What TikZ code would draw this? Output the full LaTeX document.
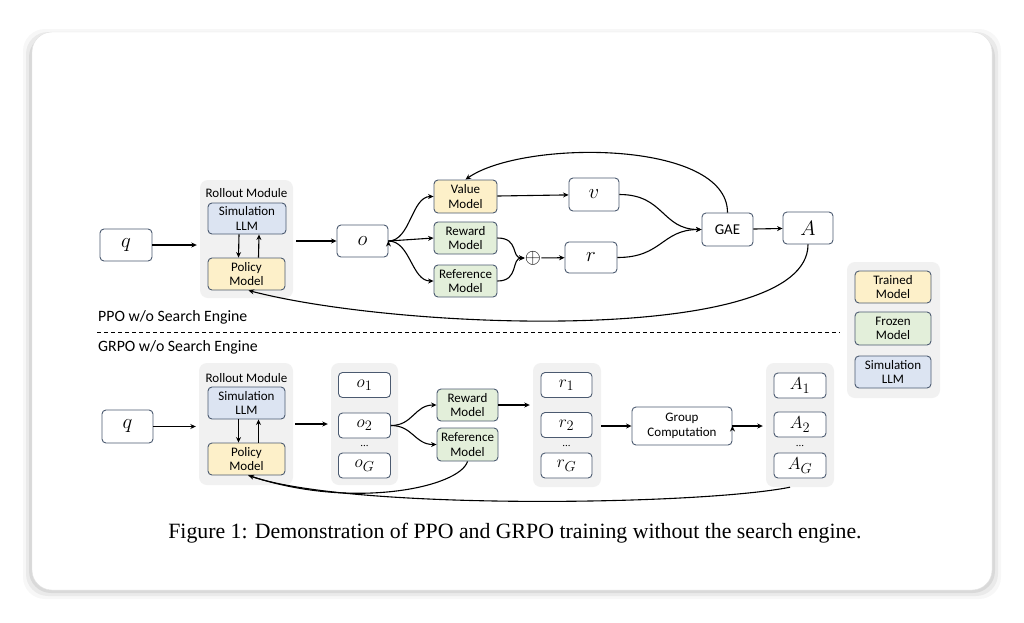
\documentclass[tikz,border=0pt]{standalone}
\usepackage{amsmath}
\usepackage{fontspec}
\setmainfont{Liberation Serif}
\newfontfamily\diagfont{Carlito}
\usetikzlibrary{arrows.meta,positioning}
\definecolor{boxline}{HTML}{4B5A70}
\definecolor{trainedfill}{HTML}{FDF0C9}
\definecolor{frozenfill}{HTML}{E3EFDA}
\definecolor{simfill}{HTML}{DCE4F2}
\definecolor{groupfill}{HTML}{F1F1F1}
\definecolor{cardline}{HTML}{E2E2E2}
\tikzset{
    component/.style={
    rectangle,rounded corners=4pt,draw=boxline,line width=0.9pt,fill=white,
    inner sep=0pt,align=center,font=\diagfont\fontsize{13}{14.5}\selectfont
    },
    trained/.style={
    component,fill=trainedfill
    },
    frozen/.style={
    component,fill=frozenfill
    },
    simllm/.style={
    component,fill=simfill
    },
    varbox/.style={
    component,font=\fontsize{20.74}{21}\selectfont
    },
    itembox/.style={
    component,minimum width=52pt,minimum height=25pt,font=\fontsize{19}{19}\selectfont
    },
    groupbg/.style={
    rectangle,rounded corners=8pt,fill=groupfill,draw=none,inner sep=0pt
    },
    modlabel/.style={
    font=\diagfont\fontsize{13}{13}\selectfont,inner sep=0pt
    },
    rowlabel/.style={
    font=\diagfont\fontsize{15.8}{16}\selectfont,inner sep=0pt,anchor=west
    },
    dots/.style={
    font=\fontsize{11}{11}\selectfont,inner sep=0pt
    },
    flow/.style={
    ->,line width=1.1pt,draw=black
    },
}

\begin{document}
\begin{tikzpicture}[x=1pt, y=-1pt, >={Stealth[length=5.5pt,width=5pt]}]
  \useasboundingbox (0,0) rectangle (1024,622);
  % card with soft shadow
  \foreach \s/\o in {9/0.03,6/0.05,3/0.07}
    \fill[black,opacity=\o,rounded corners=22pt] (32-\s,34-\s+4) rectangle (992+\s,590+\s);
  \draw[cardline,fill=white,rounded corners=20pt] (32,32) rectangle (992,590);

  % ---- PPO row
  \node[groupbg,minimum width=93pt,minimum height=118pt] (ROLL1) at (246.5,239) {};
  \node[modlabel] at (246.5,193) {Rollout Module};
  \node[varbox,minimum width=52pt,minimum height=32pt] (Q1) at (126,245) {$q$};
  \node[simllm,minimum width=78pt,minimum height=31pt] (SIM1) at (247,218.5) {Simulation\\LLM};
  \node[trained,minimum width=77pt,minimum height=32pt] (POL1) at (246.5,274) {Policy\\Model};
  \node[varbox,minimum width=51pt,minimum height=32pt] (O1) at (362.5,241) {$o$};
  \node[trained,minimum width=63pt,minimum height=33pt] (VAL1) at (465.5,196.5) {Value\\Model};
  \node[frozen,minimum width=63pt,minimum height=32pt] (REW1) at (465.5,238) {Reward\\Model};
  \node[frozen,minimum width=63pt,minimum height=32pt] (REF1) at (465.5,281) {Reference\\Model};
  \node[inner sep=0pt,font=\fontsize{20.74}{21}\selectfont] (PLUS) at (533,258) {$\oplus$};
  \node[varbox,minimum width=50pt,minimum height=33pt] (V1) at (594,194.5) {$v$};
  \node[varbox,minimum width=52pt,minimum height=31pt] (R1) at (591,257.5) {$r$};
  \node[component,minimum width=51pt,minimum height=33pt,font=\diagfont\fontsize{15}{15}\selectfont] (GAE) at (727.5,229.5) {GAE};
  \node[varbox,minimum width=50pt,minimum height=32pt] (A1) at (808,228) {$A$};

  \path[flow]
    (Q1) edge[shorten >=3pt] (ROLL1.west |- Q1)
    ([xshift=-8pt]SIM1.south) edge ([xshift=-8pt]POL1.north)
    ([xshift=12pt]POL1.north) edge ([xshift=12pt]SIM1.south)
    (ROLL1.east |- O1) edge[shorten <=3pt] (O1)
    (O1.east) edge (REW1.west)
    (VAL1) edge (V1)
    (PLUS) edge (R1)
    (GAE) edge (A1);
  \draw[flow] (O1.east) .. controls +(22,0) and +(-22,0) .. (VAL1.west);
  \draw[flow] (O1.east) .. controls +(22,0) and +(-22,0) .. (REF1.west);
  \draw[flow] (REW1.east) .. controls +(22,0) and +(-14,0) .. (PLUS.west);
  \draw[flow] (REF1.east) .. controls +(22,0) and +(-14,0) .. (PLUS.west);
  \draw[flow] (V1.east) .. controls +(45,0) and +(-40,0) .. (GAE.west);
  \draw[flow] (R1.east) .. controls +(45,0) and +(-40,0) .. (GAE.west);
  \draw[flow] (GAE.north) .. controls +(0,-73) and +(57,-40) .. (VAL1.north);
  \draw[flow] (A1.south) .. controls +(0,101) and +(153,40) .. ([xshift=2pt]POL1.south);

  % ---- separator
  \node[rowlabel] (PPOLBL) at (98,317) {PPO w/o Search Engine};
  \coordinate (SEPL) at (97,332);
  \coordinate (SEPR) at (840,332);
  \draw[line width=0.8pt,dash pattern=on 4pt off 3pt] (SEPL) -- (SEPR);
  \node[rowlabel] (GRPOLBL) at (98,347) {GRPO w/o Search Engine};

  % ---- GRPO row
  \node[groupbg,minimum width=94pt,minimum height=122pt] (ROLL2) at (246,424) {};
  \node[modlabel] at (246.5,378) {Rollout Module};
  \node[varbox,minimum width=51pt,minimum height=33pt] (Q2) at (127.5,426.5) {$q$};
  \node[simllm,minimum width=77pt,minimum height=32pt] (SIM2) at (246.5,403) {Simulation\\LLM};
  \node[trained,minimum width=77pt,minimum height=32pt] (POL2) at (246.5,459) {Policy\\Model};

  \node[groupbg,minimum width=67pt,minimum height=122pt] (OG) at (364.5,424) {};
  \node[itembox] (OI1) at (364.5,385) {$o_1$};
  \node[itembox] (OI2) at (364.5,425.5) {$o_2$};
  \node[dots] at (364.5,446) {...};
  \node[itembox] (OIG) at (364.5,465.5) {$o_G$};

  \node[frozen,minimum width=61pt,minimum height=32pt] (REW2) at (467.5,405) {Reward\\Model};
  \node[frozen,minimum width=61pt,minimum height=33pt] (REF2) at (467.5,444.5) {Reference\\Model};

  \node[groupbg,minimum width=68pt,minimum height=124pt] (RG) at (567,425) {};
  \node[itembox,minimum width=51pt] (RI1) at (566.5,385) {$r_1$};
  \node[itembox,minimum width=51pt] (RI2) at (566.5,425) {$r_2$};
  \node[dots] at (566.5,446) {...};
  \node[itembox,minimum width=51pt] (RIG) at (566.5,465.5) {$r_G$};

  \node[component,minimum width=100pt,minimum height=38pt] (GC) at (682,426) {Group\\Computation};

  \node[groupbg,minimum width=68pt,minimum height=124pt] (AG) at (800,425) {};
  \node[itembox] (AI1) at (800,385.5) {$A_1$};
  \node[itembox] (AI2) at (800,424.5) {$A_2$};
  \node[dots] at (800,446) {...};
  \node[itembox] (AIG) at (800,465.5) {$A_G$};

  \path[flow]
    (Q2) edge[shorten >=3pt] (ROLL2.west |- Q2)
    ([xshift=-8pt]SIM2.south) edge ([xshift=-8pt]POL2.north)
    ([xshift=12pt]POL2.north) edge ([xshift=12pt]SIM2.south)
    ([xshift=2pt]ROLL2.east) edge[shorten >=3pt] (OG.west)
    (REW2.east) edge[shorten >=3pt] (REW2.east -| RG.west)
    (RG.east |- GC.west) edge (GC.west)
    (GC.east) edge[shorten >=3pt] (AG.west |- GC.east);
  \draw[flow] (OI2.east) .. controls +(22,0) and +(-22,0) .. (REW2.west);
  \draw[flow] (OI2.east) .. controls +(22,0) and +(-22,0) .. (REF2.west);
  \draw[flow] ([xshift=-10pt]AG.south) .. controls +(-90,18) and +(103,35) .. ([xshift=2pt]POL2.south);
  \draw[line width=1.1pt] (REF2.south) .. controls +(-8,26) and +(103,35) .. ([xshift=2pt]POL2.south);

  % ---- legend
  \node[groupbg,minimum width=93pt,minimum height=136pt] (LEG) at (893.5,330) {};
  \node[trained,minimum width=76pt,minimum height=32pt] (LTRAIN) at (893,287) {Trained\\Model};
  \node[frozen,minimum width=76pt,minimum height=33pt] (LFROZ) at (893,328.5) {Frozen\\Model};
  \node[simllm,minimum width=76pt,minimum height=32pt] (LSIM) at (893,372) {Simulation\\LLM};

  % ---- caption
  \node[font=\fontsize{21.8}{23}\selectfont,inner sep=0pt] (CAP) at (515,533)
    {Figure 1: Demonstration of PPO and GRPO training without the search engine.};
\end{tikzpicture}
\end{document}
